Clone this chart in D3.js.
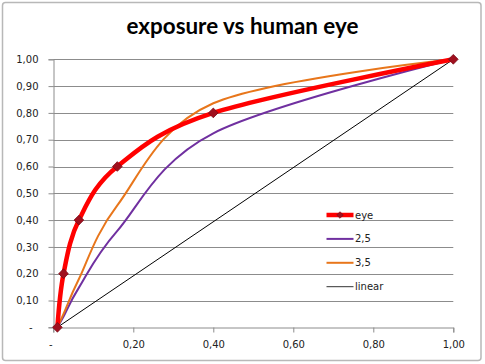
<!DOCTYPE html>
<html><head><meta charset="utf-8">
<script src="https://cdn.jsdelivr.net/npm/d3@7"></script>
<style>body{margin:0;background:#fff}svg{display:block}</style>
</head><body>
<script>
const title = "exposure vs human eye";
const xTicks = [0, 0.2, 0.4, 0.6, 0.8, 1.0];
const yTicks = [0, 0.1, 0.2, 0.3, 0.4, 0.5, 0.6, 0.7, 0.8, 0.9, 1.0];
const eyeX = [0.01024, 0.0256, 0.064, 0.16, 0.4, 1];
const eyeY = [0, 0.2, 0.4, 0.6, 0.8, 1];
const p25X = [0.01024, 0.0256, 0.064, 0.16, 0.4, 1];
const p25Y = [0, 0.04, 0.148, 0.36, 0.724, 1];
const p35X = [0.01024, 0.0256, 0.064, 0.16, 0.4, 1];
const p35Y = [0, 0.05, 0.18, 0.455, 0.836, 1];
const linX = [0.01024, 1];
const linY = [0, 1];
const seriesNames = ["eye", "2,5", "3,5", "linear"];
const colors = ["#ff0000", "#7030a0", "#e8761b", "#000000"];
const widths = [4.5, 2, 2, 1];

const W = 485, H = 364;
const svg = d3.select("body").append("svg").attr("width", W).attr("height", H);
svg.append("rect").attr("x", 2.5).attr("y", 2.5).attr("width", 478.5).attr("height", 358)
  .attr("rx", 3).attr("fill", "#fff").attr("stroke", "#b8b8b8").attr("stroke-width", 1.5);

const x = d3.scaleLinear().domain([0, 1]).range([53.3, 453.3]);
const y = d3.scaleLinear().domain([0, 1]).range([327.3, 59.3]);
const fmt = v => v === 0 ? "-" : d3.format(".2f")(v).replace(".", ",");

// gridlines
svg.append("g").selectAll("line").data(yTicks.filter(v => v > 0)).join("line")
  .attr("x1", x(0)).attr("x2", x(1)).attr("y1", d => Math.round(y(d)) + 0.5).attr("y2", d => Math.round(y(d)) + 0.5)
  .attr("stroke", "#8c8c8c").attr("stroke-width", 1);

// y axis
const yAxis = svg.append("g").attr("transform", `translate(${Math.round(x(0)) + 0.5},0)`)
  .call(d3.axisLeft(y).tickValues(yTicks).tickFormat(fmt).tickSize(5).tickPadding(10));
// x axis
const xAxis = svg.append("g").attr("transform", `translate(0,${Math.round(y(0)) + 0.5})`)
  .call(d3.axisBottom(x).tickValues(xTicks).tickFormat(fmt).tickSize(5).tickPadding(8));
[yAxis, xAxis].forEach(g => {
  g.select(".domain").attr("stroke", "#8c8c8c");
  g.selectAll(".tick line").attr("stroke", "#8c8c8c");
  g.selectAll("text").attr("font-family", "DejaVu Sans").attr("font-size", 10).attr("fill", "#222");
});
yAxis.selectAll(".tick").filter(d => d === 0).select("text").attr("dx", -6);
xAxis.selectAll(".tick").filter(d => d === 0).select("text").attr("dx", -3);

// series
const data = [
  eyeX.map((v, i) => [v, eyeY[i]]),
  p25X.map((v, i) => [v, p25Y[i]]),
  p35X.map((v, i) => [v, p35Y[i]]),
  linX.map((v, i) => [v, linY[i]])
];
const line = d3.line().x(d => x(d[0])).y(d => y(d[1])).curve(d3.curveCardinal.tension(0));
const order = [3, 1, 2, 0];
order.forEach(i => {
  svg.append("path").attr("d", i === 3 ? d3.line().x(d => x(d[0])).y(d => y(d[1]))(data[i]) : line(data[i]))
    .attr("fill", "none").attr("stroke", colors[i]).attr("stroke-width", widths[i])
    .attr("stroke-linejoin", "round").attr("stroke-linecap", "round");
});
const diamond = d3.symbol().type(d3.symbolDiamond2).size(60);
svg.append("g").selectAll("path").data(data[0]).join("path")
  .attr("transform", d => `translate(${x(d[0])},${y(d[1])})`)
  .attr("d", diamond).attr("fill", "#a0101e").attr("stroke", "#7a0a18").attr("stroke-width", 0.8);

// legend
const lg = svg.append("g");
seriesNames.forEach((name, i) => {
  const ly = 215 + i * 23.9;
  lg.append("line").attr("x1", 326.5).attr("x2", 353.5).attr("y1", ly).attr("y2", ly)
    .attr("stroke", i === 3 ? "#333" : colors[i]).attr("stroke-width", widths[i]);
  if (i === 0) {
    lg.append("path").attr("transform", `translate(340,${ly})`).attr("d", d3.symbol().type(d3.symbolDiamond2).size(28))
      .attr("fill", "#a0101e").attr("stroke", "#7a0a18").attr("stroke-width", 0.6);
  }
  lg.append("text").attr("x", 355).attr("y", ly).attr("dy", "0.35em").text(name)
    .attr("font-family", "DejaVu Sans").attr("font-size", 10).attr("fill", "#222");
});

// title
const t = svg.append("text").attr("x", 242.5).attr("y", 34.3).attr("text-anchor", "middle")
  .attr("font-family", "Lato").attr("font-weight", "bold").attr("font-size", 20).attr("fill", "#000").text(title);
const tw = t.node().getComputedTextLength();
t.attr("font-size", 20 * 232 / tw);
</script>
</body></html>
